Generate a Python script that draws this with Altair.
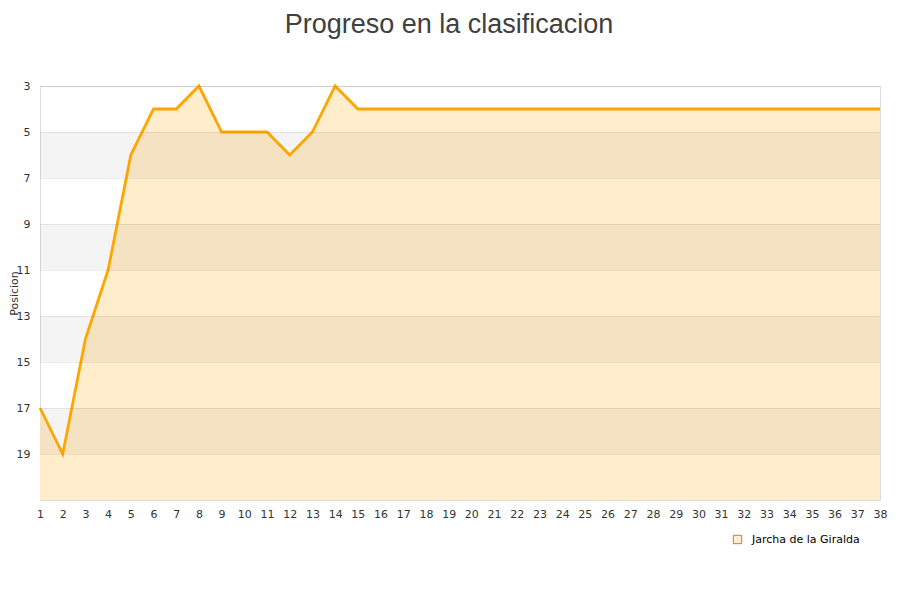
import altair as alt
import pandas as pd

jornadas = list(range(1, 39))
posiciones = [17, 19, 14, 11, 6, 4, 4, 3, 5, 5, 5, 6, 5, 3, 4] + [4] * 23
equipo = "Jarcha de la Giralda"
band_starts = [5, 9, 13, 17]
band_ends = [7, 11, 15, 19]
y_ticks = [3, 5, 7, 9, 11, 13, 15, 17, 19]

df = pd.DataFrame({"jornada": jornadas, "posicion": posiciones, "base": [21] * len(jornadas), "equipo": [equipo] * len(jornadas)})
bands = pd.DataFrame({"y0": band_starts, "y1": band_ends})

xscale = alt.Scale(domain=[1, 38], nice=False, zero=False)
yscale = alt.Scale(domain=[3, 21], reverse=True, nice=False, zero=False)

xaxis = alt.Axis(values=jornadas, format="d", labelAngle=0, ticks=False, domain=False, grid=False,
                 labelOverlap=False, labelFlush=False,
                 labelPadding=8, labelFont="DejaVu Sans", labelFontSize=11, labelColor="#333", title=None)
yaxis = alt.Axis(values=y_ticks, format="d", ticks=False, domain=False, grid=True, gridColor="#000", gridOpacity=0.07,
                 labelPadding=10, labelFont="DejaVu Sans", labelFontSize=11, labelColor="#333",
                 title="Posicion", titleFont="DejaVu Sans", titleFontSize=11, titleFontWeight="normal",
                 titleColor="#333", titlePadding=-3, zindex=1)

area = alt.Chart(df).mark_area(opacity=1).encode(
    x=alt.X("jornada:Q", scale=xscale, axis=xaxis),
    y=alt.Y("posicion:Q", scale=yscale, axis=yaxis),
    y2="base:Q",
    fill=alt.Fill("equipo:N", scale=alt.Scale(range=["#FFEDCC"]),
                  legend=alt.Legend(title=None, orient="none", legendX=692, legendY=448, symbolType="square",
                                    symbolSize=70, symbolStrokeColor="#a08860", symbolStrokeWidth=1,
                                    labelOffset=9,
                                    labelFont="DejaVu Sans", labelFontSize=11, labelColor="#000")),
)

band_layer = alt.Chart(bands).mark_rect(color="#000", opacity=0.045).encode(
    y=alt.Y("y0:Q", scale=yscale, axis=yaxis),
    y2="y1:Q",
)

line = alt.Chart(df).mark_line(color="#FFA500", strokeWidth=2.8).encode(
    x=alt.X("jornada:Q", scale=xscale, axis=xaxis),
    y=alt.Y("posicion:Q", scale=yscale, axis=yaxis),
)

chart = alt.layer(area, band_layer, line).properties(
    width=840, height=414,
    title=alt.TitleParams("Progreso en la clasificacion", font="Liberation Sans", fontSize=27,
                          fontWeight="normal", color="#404040", anchor="middle", dx=-11, offset=41),
    autosize=alt.AutoSizeParams(type="none"),
    padding={"left": 32, "top": 78, "right": 12, "bottom": 92},
).configure_view(stroke="#dddddd").configure_axisX(labelOverlap=False)

chart.save("out.html", embed_options={"renderer": "svg", "actions": False})
